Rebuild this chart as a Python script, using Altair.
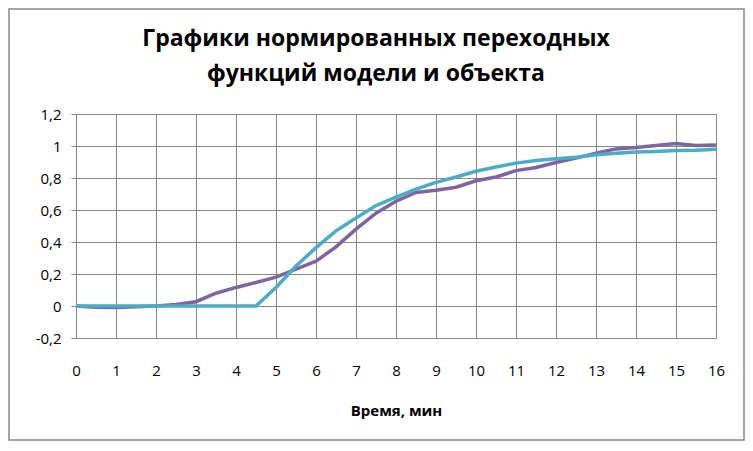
import altair as alt
import pandas as pd

# time points, min
t = [0, 0.5, 1, 1.5, 2, 2.5, 3, 3.5, 4, 4.5, 5, 5.5, 6, 6.5, 7, 7.5, 8,
     8.5, 9, 9.5, 10, 10.5, 11, 11.5, 12, 12.5, 13, 13.5, 14, 14.5, 15, 15.5, 16]
# object (purple)
obj = [0, -0.008, -0.01, -0.005, 0, 0.01, 0.027, 0.08, 0.116, 0.147, 0.18, 0.23, 0.28,
       0.37, 0.48, 0.58, 0.655, 0.71, 0.723, 0.742, 0.783, 0.806, 0.846, 0.866, 0.897,
       0.924, 0.955, 0.982, 0.99, 1.003, 1.015, 1.003, 1.007]
# model (cyan)
model = [0, 0, 0, 0, 0, 0, 0, 0, 0, 0, 0.116, 0.25, 0.365, 0.47, 0.55, 0.628, 0.68,
         0.73, 0.773, 0.806, 0.842, 0.869, 0.893, 0.91, 0.92, 0.93, 0.945, 0.955, 0.962,
         0.966, 0.972, 0.974, 0.98]

x_ticks = list(range(0, 17))
y_ticks = [-0.2, 0, 0.2, 0.4, 0.6, 0.8, 1.0, 1.2]

title_lines = ["Графики нормированных переходных", "функций модели и объекта"]
x_title = "Время, мин"

FONT = "Open Sans"
GRID = "#868686"

df_obj = pd.DataFrame({"t": t, "v": obj})
df_model = pd.DataFrame({"t": t, "v": model})

xs = alt.Scale(domain=[0, 16], nice=False, zero=False)
ys = alt.Scale(domain=[-0.2, 1.2], nice=False, zero=False)

x_axis = alt.Axis(values=x_ticks, title=x_title, grid=True, gridColor=GRID, gridOpacity=1,
                  domain=False, ticks=False, labelPadding=25, labelFont=FONT, labelFontSize=15,
                  labelColor="black", titleFont=FONT, titleFontSize=15, titleFontWeight="bold",
                  titleColor="black", titlePadding=25, labelFlush=False, labelOverlap=False)
y_axis = alt.Axis(values=y_ticks, title=None, grid=True, gridColor=GRID, gridOpacity=1,
                  domain=False, ticks=True, tickColor=GRID, tickSize=5, labelPadding=10,
                  labelFont=FONT, labelFontSize=15, labelColor="black", labelOverlap=False,
                  labelExpr="replace(toString(round(datum.value*10)/10), '.', ',')")

line_obj = alt.Chart(df_obj).mark_line(color="#8064A2", strokeWidth=3.5).encode(
    x=alt.X("t:Q", scale=xs, axis=x_axis),
    y=alt.Y("v:Q", scale=ys, axis=y_axis),
)
line_model = alt.Chart(df_model).mark_line(color="#4BACC6", strokeWidth=3.5).encode(
    x=alt.X("t:Q", scale=xs, axis=x_axis),
    y=alt.Y("v:Q", scale=ys, axis=y_axis),
)

frame = alt.Chart(pd.DataFrame({"a": [0]})).mark_rect(
    fill=None, stroke="#868686", strokeWidth=1.5
).encode(
    x=alt.value(-67), x2=alt.value(640 + 28),
    y=alt.value(-105), y2=alt.value(224 + 102),
)

title_df = pd.DataFrame({"line": title_lines, "i": [0, 1]})
title = alt.Chart(title_df).transform_filter("datum.i == 0").mark_text(
    font=FONT, fontSize=23, fontWeight="bold", color="black", align="center", baseline="middle"
).encode(text="line:N", x=alt.value(300), y=alt.value(-75))
title2 = alt.Chart(title_df).transform_filter("datum.i == 1").mark_text(
    font=FONT, fontSize=23, fontWeight="bold", color="black", align="center", baseline="middle"
).encode(text="line:N", x=alt.value(300), y=alt.value(-40))

chart = alt.layer(frame, title, title2, line_obj, line_model).properties(
    width=640, height=224,
    autosize=alt.AutoSizeParams(type="none"),
    padding={"left": 68, "top": 106, "right": 29, "bottom": 104},
).configure_view(stroke=None).configure(background="white")

chart.save("out.html", embed_options={"renderer": "svg", "actions": False})
